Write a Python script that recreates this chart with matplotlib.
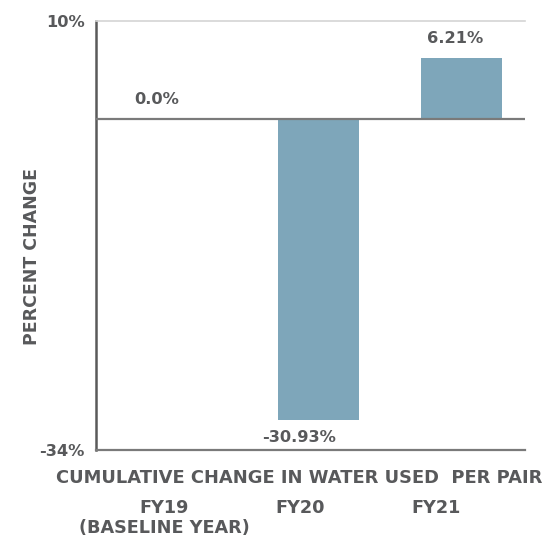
import matplotlib
matplotlib.use('Agg')
from matplotlib import pyplot as plt
from matplotlib.transforms import ScaledTranslation

years = ['FY19\n(BASELINE YEAR)', 'FY20', 'FY21']
change = [0.0, -30.93, 6.21]
value_labels = ['0.0%', '-30.93%', '6.21%']
ylims = [-34, 10]

text_col = '#58595b'
bar_col = '#7ea6ba'

plt.rcParams['font.family'] = 'DejaVu Sans'
plt.rcParams['font.weight'] = 'bold'

fig = plt.figure(figsize=(5.53, 5.38), dpi=100)
ax = fig.add_axes([96 / 553, 88 / 538, 429 / 553, 429 / 538])

x = list(range(len(years)))
ax.bar(x, change, width=0.566, color=bar_col, zorder=2)
ax.axhline(0, color='#7a7a7a', lw=1.6, zorder=3)

ax.set_xlim(-0.556, 2.444)
ax.set_ylim(ylims)

# value labels, offsets in px
offsets = [(-18.5, 19.5), (-19.5, -17), (-6.5, 19)]
for i, (v, lab) in enumerate(zip(change, value_labels)):
    dx, dy = offsets[i]
    ax.annotate(lab, xy=(i, v), xytext=(dx * 0.72, dy * 0.72),
                textcoords='offset points', ha='center', va='center',
                fontsize=11.7, fontweight='bold', color=text_col)

ax.set_yticks(ylims)
ax.set_yticklabels(['%d%%' % y for y in ylims], fontsize=11.7,
                   fontweight='bold', color=text_col)
ax.tick_params(axis='y', length=0, pad=8)

ax.set_xticks(x)
ax.set_xticklabels(years, fontsize=12.7, fontweight='bold', color=text_col,
                   linespacing=1.15)
ax.tick_params(axis='x', length=0, pad=35)
for lbl, dx in zip(ax.get_xticklabels(), [-11.5, -18.5, -25.5]):
    lbl.set_transform(lbl.get_transform() +
                      ScaledTranslation(dx / 100, 0, fig.dpi_scale_trans))

ax.spines['right'].set_visible(False)
ax.spines['top'].set_color('#d4d4d4')
ax.spines['top'].set_linewidth(1.2)
ax.spines['left'].set_color('#5a5a5a')
ax.spines['left'].set_linewidth(1.8)
ax.spines['bottom'].set_color('#7a7a7a')
ax.spines['bottom'].set_linewidth(1.6)

fig.text(32 / 553, 1 - 257 / 538, 'PERCENT CHANGE', rotation=90,
         ha='center', va='center', fontsize=12.5, fontweight='bold', color=text_col)
fig.text(299 / 553, 1 - 478 / 538, 'CUMULATIVE CHANGE IN WATER USED  PER PAIR',
         ha='center', va='center', fontsize=12.9, fontweight='bold', color=text_col)

fig.savefig('out.png', dpi=100)
